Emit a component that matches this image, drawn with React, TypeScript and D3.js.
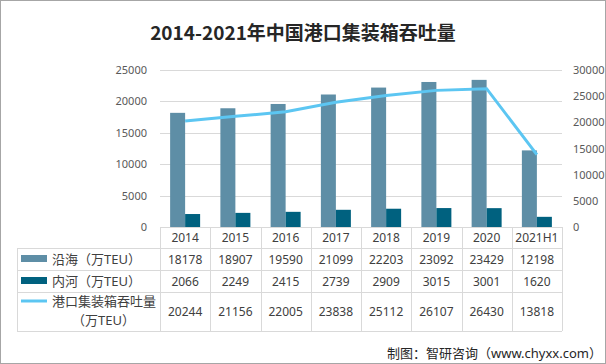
import React, { useRef, useEffect } from "react";
import * as d3 from "d3";

const YEARS = ["2014", "2015", "2016", "2017", "2018", "2019", "2020", "2021H1"];
const COASTAL = [18178, 18907, 19590, 21099, 22203, 23092, 23429, 12198];
const INLAND = [2066, 2249, 2415, 2739, 2909, 3015, 3001, 1620];
const TOTAL = [20244, 21156, 22005, 23838, 25112, 26107, 26430, 13818];
const LEFT_TICKS = [0, 5000, 10000, 15000, 20000, 25000];
const RIGHT_TICKS = [0, 5000, 10000, 15000, 20000, 25000, 30000];

const FONT = "'Noto Sans', 'Noto Sans CJK SC', sans-serif";
const C_COAST = "#5e8ea6";
const C_INLAND = "#00617f";
const C_LINE = "#5cc6f2";
const GRID = "#d9d9d9";

export default function App() {
    const svgRef = useRef<SVGSVGElement>(null);

    useEffect(() => {
        const width = 606, height = 364;
        const plot = { left: 160, right: 562, top: 70, bottom: 227 };
        const tableLeft = 17;
        const rowY = [227, 248, 270, 292, 331];

        const svg = d3.select(svgRef.current);
        svg.selectAll("*").remove();

        svg.append("rect")
            .attr("x", 0.5).attr("y", 0.5)
            .attr("width", width - 1).attr("height", height - 1)
            .attr("fill", "#fff").attr("stroke", "#a6a6a6");

        const x = d3.scaleBand().domain(YEARS).range([plot.left, plot.right]);
        const yL = d3.scaleLinear().domain([0, 25000]).range([plot.bottom, plot.top]);
        const yR = d3.scaleLinear().domain([0, 30000]).range([plot.bottom, plot.top]);
        const barW = 15;

        // title
        svg.append("text")
            .attr("x", 303).attr("y", 40)
            .attr("text-anchor", "middle")
            .style("font-family", "'Noto Sans CJK SC', sans-serif")
            .style("font-size", "19px")
            .style("font-weight", 700)
            .style("fill", "#262626")
            .text("2014-2021年中国港口集装箱吞吐量");

        // grid
        svg.append("g")
            .selectAll("line")
            .data(LEFT_TICKS.slice(1))
            .join("line")
            .attr("x1", plot.left).attr("x2", plot.right)
            .attr("y1", d => Math.round(yL(d)) + 0.5)
            .attr("y2", d => Math.round(yL(d)) + 0.5)
            .attr("stroke", GRID);

        // left axis labels
        svg.append("g")
            .selectAll("text")
            .data(LEFT_TICKS)
            .join("text")
            .attr("x", 147)
            .attr("y", d => yL(d) + 4)
            .attr("text-anchor", "end")
            .style("font-family", FONT)
            .style("font-size", "11px")
            .style("fill", "#595959")
            .text(d => d);

        // right axis labels
        svg.append("g")
            .selectAll("text")
            .data(RIGHT_TICKS)
            .join("text")
            .attr("x", 573)
            .attr("y", d => yR(d) + 4)
            .attr("text-anchor", "start")
            .style("font-family", FONT)
            .style("font-size", "11px")
            .style("fill", "#595959")
            .text(d => d);

        // bars
        const cx = (i: number) => (x(YEARS[i]) as number) + x.bandwidth() / 2;
        svg.append("g")
            .selectAll("rect")
            .data(COASTAL)
            .join("rect")
            .attr("x", (d, i) => cx(i) - barW)
            .attr("y", d => yL(d))
            .attr("width", barW)
            .attr("height", d => yL(0) - yL(d))
            .attr("fill", C_COAST);

        svg.append("g")
            .selectAll("rect")
            .data(INLAND)
            .join("rect")
            .attr("x", (d, i) => cx(i))
            .attr("y", d => yL(d))
            .attr("width", barW)
            .attr("height", d => yL(0) - yL(d))
            .attr("fill", C_INLAND);

        // line
        const line = d3.line<number>()
            .x((d, i) => cx(i))
            .y(d => yR(d));
        svg.append("path")
            .datum(TOTAL)
            .attr("d", line)
            .attr("fill", "none")
            .attr("stroke", C_LINE)
            .attr("stroke-width", 3);

        // table
        const tbl = svg.append("g").attr("stroke", GRID).attr("shape-rendering", "crispEdges");
        tbl.append("line")
            .attr("x1", plot.left).attr("x2", plot.right)
            .attr("y1", rowY[0] + 0.5).attr("y2", rowY[0] + 0.5);
        rowY.slice(1).forEach(yy => {
            tbl.append("line")
                .attr("x1", tableLeft).attr("x2", plot.right)
                .attr("y1", yy + 0.5).attr("y2", yy + 0.5);
        });
        tbl.append("line")
            .attr("x1", tableLeft + 0.5).attr("x2", tableLeft + 0.5)
            .attr("y1", rowY[1]).attr("y2", rowY[4]);
        [...YEARS.map(d => x(d) as number), plot.right].forEach(xx => {
            tbl.append("line")
                .attr("x1", Math.round(xx) + 0.5).attr("x2", Math.round(xx) + 0.5)
                .attr("y1", rowY[0]).attr("y2", rowY[4]);
        });

        const cellText = (vals: (string | number)[], y: number) => {
            svg.append("g")
                .selectAll("text")
                .data(vals)
                .join("text")
                .attr("x", (d, i) => cx(i))
                .attr("y", y)
                .attr("text-anchor", "middle")
                .style("font-family", FONT)
                .style("font-size", "12px")
                .style("fill", "#404040")
                .text(d => d);
        };
        cellText(YEARS, 242);
        cellText(COASTAL, 264);
        cellText(INLAND, 286);
        cellText(TOTAL, 316);

        // legend
        const legendText = (t: string, xx: number, yy: number) =>
            svg.append("text")
                .attr("x", xx).attr("y", yy)
                .style("font-family", FONT)
                .style("font-size", "13px")
                .style("fill", "#404040")
                .text(t);
        svg.append("rect").attr("x", 21).attr("y", 255).attr("width", 26).attr("height", 7).attr("fill", C_COAST);
        legendText("沿海（万TEU）", 52, 264);
        svg.append("rect").attr("x", 21).attr("y", 277).attr("width", 26).attr("height", 7).attr("fill", C_INLAND);
        legendText("内河（万TEU）", 52, 286);
        svg.append("line").attr("x1", 21).attr("x2", 47).attr("y1", 301).attr("y2", 301)
            .attr("stroke", C_LINE).attr("stroke-width", 3);
        legendText("港口集装箱吞吐量", 52, 306);
        legendText("（万TEU）", 72, 325);

        // source
        svg.append("text")
            .attr("x", 602).attr("y", 358)
            .attr("text-anchor", "end")
            .style("font-family", FONT)
            .style("font-size", "13px")
            .style("fill", "#262626")
            .text("制图：智研咨询（www.chyxx.com）");
    }, []);

    return (
        <svg
            ref={svgRef}
            width={606}
            height={364}
            style={{ position: "absolute", left: 0, top: 0, background: "#fff", display: "block" }}
        />
    );
}
